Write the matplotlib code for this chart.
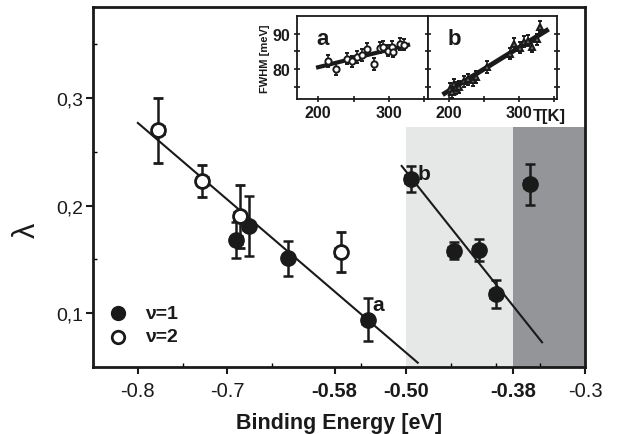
import matplotlib
matplotlib.use("Agg")
import matplotlib.pyplot as plt
import numpy as np

plt.rcParams['font.family'] = ['Liberation Sans', 'DejaVu Sans']

# ---- main data ----
v1_x = [-0.690, -0.676, -0.632, -0.543, -0.495, -0.447, -0.419, -0.400, -0.362]
v1_y = [0.168, 0.181, 0.151, 0.094, 0.225, 0.158, 0.159, 0.118, 0.220]
v1_err = [0.017, 0.028, 0.016, 0.020, 0.012, 0.008, 0.010, 0.013, 0.019]
v2_x = [-0.777, -0.728, -0.686, -0.573]
v2_y = [0.270, 0.223, 0.190, 0.157]
v2_err = [0.030, 0.015, 0.029, 0.019]
xerr_main = 0.006

fit_a_x = [-0.800, -0.487]
fit_a_y = [0.277, 0.054]
fit_b_x = [-0.505, -0.348]
fit_b_y = [0.237, 0.073]

xticks = [-0.8, -0.7, -0.58, -0.50, -0.38, -0.3]
xtick_labels = ['-0.8', '-0.7', '-0.58', '-0.50', '-0.38', '-0.3']
bold_ticks = ['-0.58', '-0.50', '-0.38']
yticks = [0.1, 0.2, 0.3]
ytick_labels = ['0,1', '0,2', '0,3']

light_band = (-0.50, -0.38)
dark_band = (-0.38, -0.30)
band_top = 0.273

# ---- inset data ----
a_T = [214, 225, 241, 248, 255, 262, 269, 279, 287, 292, 299, 304, 306, 315, 322]
a_F = [82.3, 80.0, 82.9, 82.2, 83.4, 84.0, 85.7, 81.4, 86.0, 86.3, 85.2, 86.3, 84.9, 87.1, 86.9]
a_fit_T = [200, 327]
a_fit_F = [80.5, 86.8]

b_T = [201, 204, 207, 210, 214, 222, 228, 234, 239, 255, 288, 294, 302, 308, 313, 319, 326, 330]
b_F = [74.3, 73.5, 75.7, 74.6, 74.9, 76.5, 77.1, 76.8, 77.7, 80.6, 84.3, 87.1, 86.0, 87.7, 88.0, 86.3, 88.4, 92.0]
b_fit_T = [194, 340]
b_fit_F = [73.1, 90.9]

INK = '#1a1a1a'

fig = plt.figure(figsize=(6.21, 4.35), dpi=100)
ax = fig.add_axes([0.150, 0.154, 0.792, 0.828])

ax.fill_between(light_band, 0, band_top, color='#e6e8e7', lw=0, zorder=0)
ax.fill_between(dark_band, 0, band_top, color='#939598', lw=0, zorder=0)

ax.plot(fit_a_x, fit_a_y, color=INK, lw=1.5, zorder=2)
ax.plot(fit_b_x, fit_b_y, color=INK, lw=1.5, zorder=2)

ax.errorbar(v1_x, v1_y, yerr=v1_err, xerr=xerr_main, fmt='o', ms=11,
            mfc=INK, mec=INK, ecolor=INK, elinewidth=1.8,
            capsize=3.5, capthick=1.8, zorder=3)
ax.errorbar(v2_x, v2_y, yerr=v2_err, xerr=xerr_main, fmt='o', ms=10,
            mfc='white', mec=INK, mew=2, ecolor=INK, elinewidth=1.8,
            capsize=3.5, capthick=1.8, zorder=4)

ax.set_xlim(-0.85, -0.30)
ax.set_ylim(0.05, 0.385)
ax.set_xticks(xticks)
ax.set_xticklabels(xtick_labels)
for lbl in ax.get_xticklabels():
    if lbl.get_text() in bold_ticks:
        lbl.set_fontweight('bold')
ax.set_xticks([-0.75, -0.65, -0.55, -0.45, -0.40, -0.35], minor=True)
ax.set_yticks(yticks)
ax.set_yticklabels(ytick_labels)
ax.set_yticks([0.15, 0.25, 0.35], minor=True)
ax.tick_params(axis='x', which='major', labelsize=14.5, width=1.5, length=5,
               direction='out', color=INK, labelcolor=INK, pad=5)
ax.tick_params(axis='y', which='major', labelsize=14, width=1.5, length=5,
               direction='out', color=INK, labelcolor=INK, pad=2)
ax.tick_params(axis='both', which='minor', width=1, length=3, direction='in')
for s in ax.spines.values():
    s.set_linewidth(2)
    s.set_color(INK)

ax.set_xlabel('Binding Energy [eV]', fontsize=15.5, fontweight='bold', color=INK, va='center')
ax.xaxis.set_label_coords(0.5, -0.153)
ax.set_ylabel('λ', fontsize=22, color=INK, va='center')
ax.yaxis.set_label_coords(-0.135, 0.383)

ax.text(-0.538, 0.103, 'a', fontsize=15, fontweight='bold', color=INK)
ax.text(-0.487, 0.225, 'b', fontsize=15, fontweight='bold', color=INK)

# legend
ax.plot([-0.822], [0.100], 'o', ms=10, mfc=INK, mec=INK)
ax.plot([-0.822], [0.078], 'o', ms=9, mfc='white', mec=INK, mew=2)
ax.text(-0.792, 0.100, 'ν=1', fontsize=14, fontweight='bold', va='center', color=INK)
ax.text(-0.792, 0.078, 'ν=2', fontsize=14, fontweight='bold', va='center', color=INK)

# insets
axa = fig.add_axes([0.478, 0.770, 0.211, 0.191])
axb = fig.add_axes([0.689, 0.770, 0.208, 0.191])
axa.errorbar(a_T, a_F, yerr=1.6, fmt='o', ms=4.5, mfc='white', mec=INK, mew=1.4,
             ecolor=INK, elinewidth=1.2, capsize=1.5, zorder=3)
axa.plot(a_fit_T, a_fit_F, color=INK, lw=3, zorder=2)
axb.errorbar(b_T, b_F, yerr=1.6, fmt='^', ms=5, mfc='#666666', mec=INK, mew=1.4,
             ecolor=INK, elinewidth=1.2, capsize=1.5, zorder=3)
axb.plot(b_fit_T, b_fit_F, color=INK, lw=3.5, zorder=2)
for a_, name in ((axa, 'a'), (axb, 'b')):
    a_.set_xlim(170, 355)
    a_.set_ylim(71.5, 95)
    a_.set_xticks([200, 300])
    a_.set_xticks([250, 350], minor=True)
    a_.set_yticks([80, 90])
    a_.set_yticks([75, 85], minor=True)
    a_.tick_params(axis='both', which='both', direction='inout', length=5, width=1.2,
                   labelsize=11.5, pad=2, color=INK, labelcolor=INK)
    for lbl in a_.get_xticklabels() + a_.get_yticklabels():
        lbl.set_fontweight('bold')
    for s in a_.spines.values():
        s.set_linewidth(1.3)
        s.set_color(INK)
    a_.text(0.15, 0.66, name, transform=a_.transAxes, fontsize=16, fontweight='bold', color=INK)
axb.tick_params(axis='y', which='both', left=True, right=True, labelleft=False)
axa.set_ylabel('FWHM [meV]', fontsize=8, fontweight='bold', labelpad=2, color=INK)
axb.text(0.81, -0.2, 'T[K]', transform=axb.transAxes, fontsize=12, fontweight='bold',
         ha='left', va='center', color=INK)

fig.savefig('out.png', dpi=100)
